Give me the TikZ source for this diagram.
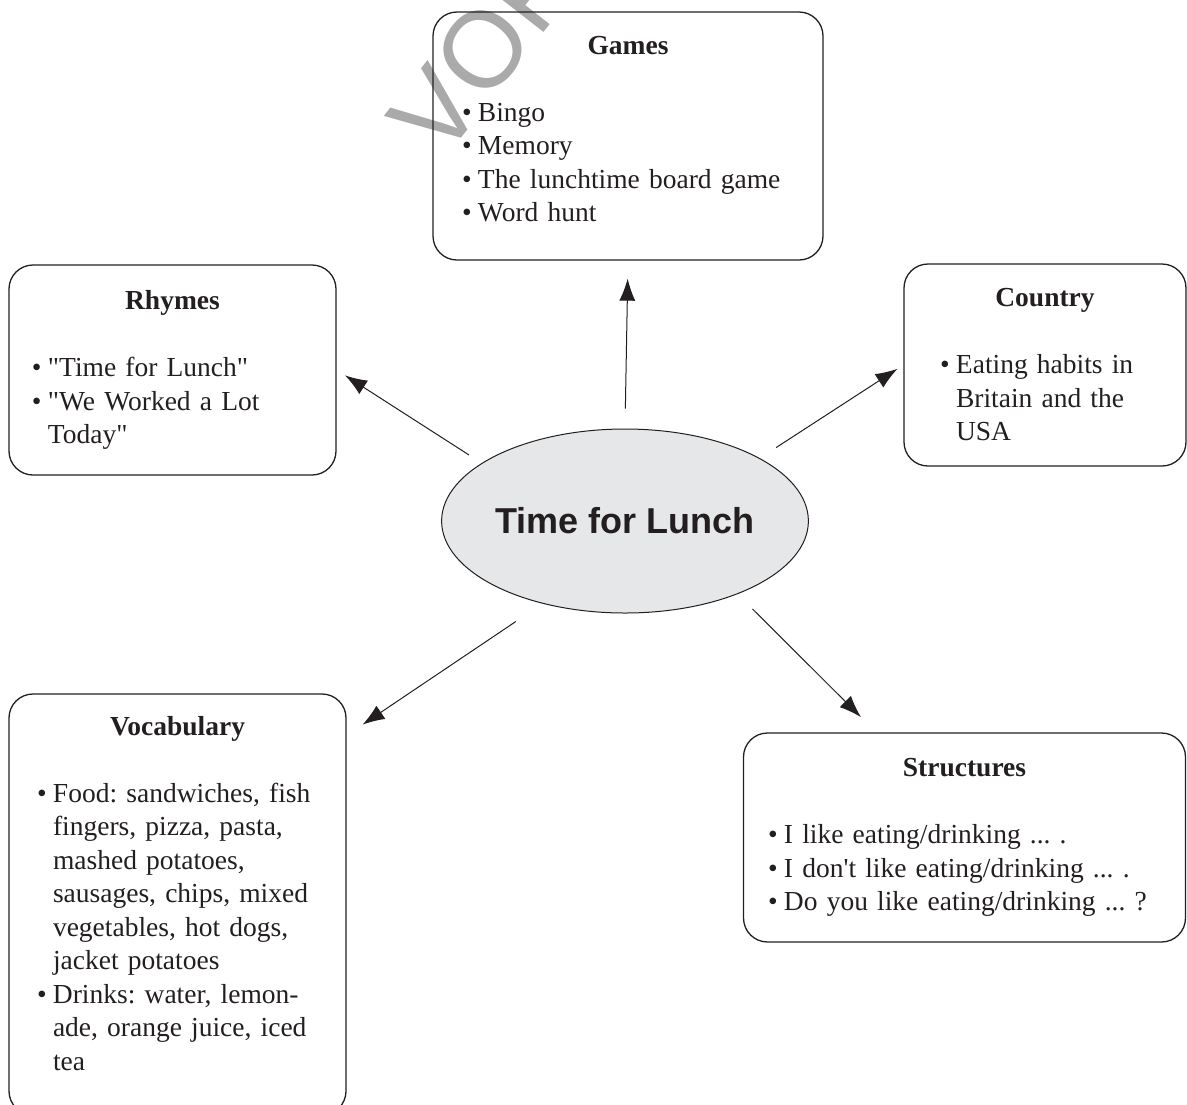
\documentclass[tikz,border=0pt]{standalone}
\usepackage{fontspec}
\setmainfont{Liberation Serif}[Ligatures=TeXOff]
\newfontfamily\headfont{Liberation Sans}
\usetikzlibrary{shapes.geometric,arrows.meta}
\tikzset{>={Latex[length=11pt,width=8pt]}}
\definecolor{ink}{RGB}{35,31,32}
\definecolor{bubble}{RGB}{230,231,232}
\definecolor{wmark}{RGB}{170,170,170}
\newcommand{\ttl}[1]{{\centering\bfseries #1\par}\vspace{\baselineskip}}
\newcommand{\itm}[1]{\hangindent=8pt\hangafter=1\noindent\makebox[8pt][l]{\textbullet}#1\par}

\begin{document}
\begin{tikzpicture}[x=0.5pt,y=-0.5pt,
                    topic/.style={draw=ink,line width=0.65pt,rounded corners=12pt,inner sep=0pt,
                                  text=ink,align=left,
                                  font=\fontsize{13.75}{16.75}\selectfont\frenchspacing},
                    centre/.style={ellipse,draw=ink,line width=0.5pt,fill=bubble,inner sep=0pt,
                                   minimum width=175pt,minimum height=92pt,text=ink,
                                   font=\headfont\bfseries\fontsize{18}{21.6}\selectfont},
                    link/.style={->,draw=ink,line width=0.5pt},
                    wm/.style={text=wmark,font=\headfont\fontsize{54}{54}\selectfont}
        ]
    \useasboundingbox (0,0) rectangle (1187,1104);
    \node[wm,rotate=52,anchor=base west] (stamp) at (438,168) {VOR};

    \node[centre] (lunch) at (625,521) {Time for Lunch};

    \node[topic,minimum width=195pt,minimum height=124pt,text width=166pt] (games) at (628,136)
        {\ttl{Games}\itm{Bingo}\itm{Memory}\itm{The lunchtime board game}\itm{Word hunt}\vspace{7pt}};
    \node[topic,minimum width=163.5pt,minimum height=105pt,text width=140.5pt] (rhymes) at (172.5,370)
        {\ttl{Rhymes}\itm{"Time for Lunch"}\itm{"We Worked a Lot\newline Today"}};
    \node[topic,minimum width=141pt,minimum height=101pt,text width=105pt] (country) at (1045,365)
        {\ttl{Country}\itm{Eating habits in\newline Britain and the\newline USA}};
    \node[topic,minimum width=168.5pt,minimum height=210.5pt,text width=140.5pt] (vocab) at (177.5,904.5)
        {\ttl{Vocabulary}%
         \itm{Food: sandwiches, fish\newline fingers, pizza, pasta,\newline mashed potatoes,\newline
              sausages, chips, mixed\newline vegetables, hot dogs,\newline jacket potatoes}%
         \itm{Drinks: water, lemon-\newline ade, orange juice, iced\newline tea}\vspace{11pt}};
    \node[topic,minimum width=221pt,minimum height=104.5pt,text width=196.5pt] (struct) at (964.5,837.5)
        {\ttl{Structures}\itm{I like eating/drinking ... .}\itm{I don't like eating/drinking ... .}%
         \itm{Do you like eating/drinking ... ?}};

    % arrows out of the centre
    \draw[link,shorten <=10pt,shorten >=9pt] (lunch.north) -- (games.south);
    \draw[link,shorten <=7.5pt,shorten >=5pt] (lunch.158.7) -- (rhymes.east);
    \draw[link,shorten <=9.7pt,shorten >=3.5pt] (lunch.25.8) -- (country.west);
    \draw[link,shorten <=16pt,shorten >=9.6pt] (lunch.225) -- (vocab.45);
    \draw[link,shorten <=10.5pt,shorten >=10.8pt] (lunch.-33.9) -- (struct.130.4);
\end{tikzpicture}
\end{document}
